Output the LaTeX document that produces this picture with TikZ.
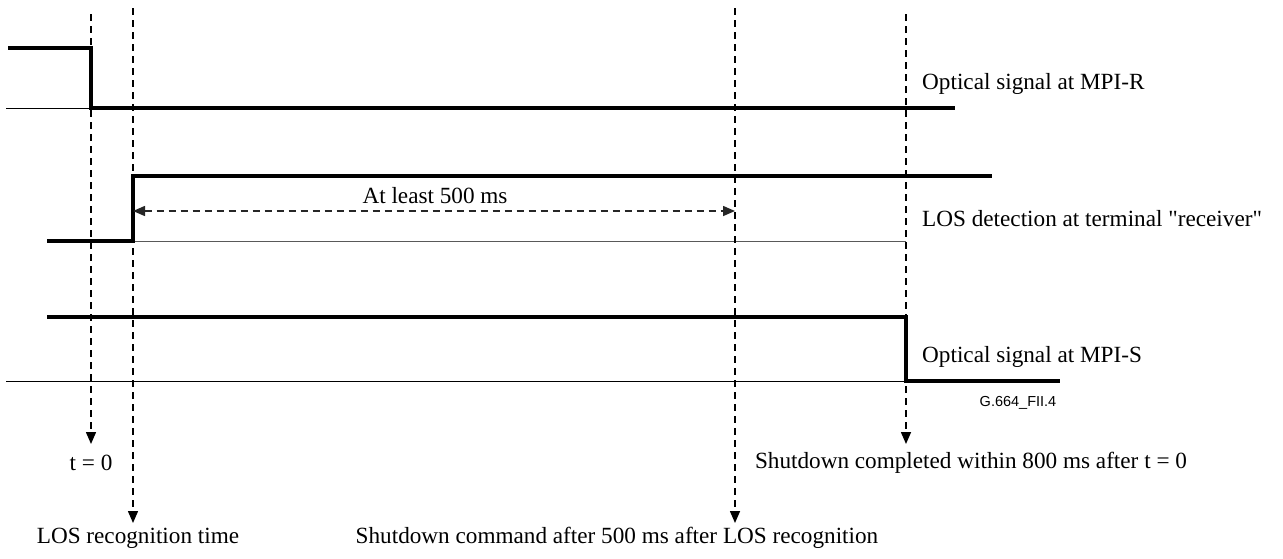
\documentclass[tikz,border=0pt]{standalone}
\usepackage{fontspec}
\newfontfamily\labelserif{Liberation Serif}
\newfontfamily\labelsans{Liberation Sans}
\usetikzlibrary{arrows.meta}
\begin{document}
\begin{tikzpicture}[x=1pt,y=-1pt,
  signal/.style={line width=4.5pt, line join=miter},
  base/.style={line width=1pt},
  marker/.style={line width=1.5pt, dash pattern=on 7pt off 5pt},
  mark arrow/.style={marker, -{Triangle[width=10pt,length=12pt]}},
  span arrow/.style={line width=1.5pt, dash pattern=on 7pt off 5pt, gray!30!black,
     {Triangle[width=10pt,length=12pt]}-{Triangle[width=10pt,length=12pt]}},
  lbl/.style={font=\labelserif\fontsize{23.2}{27}\selectfont, inner sep=0pt}]
\useasboundingbox (0,0) rectangle (1283,558);

% time markers
\coordinate (t0top) at (91,14);   \coordinate (t0bot) at (91,444);
\coordinate (lrtop) at (133,8);   \coordinate (lrbot) at (133,523);
\coordinate (sctop) at (735,8);   \coordinate (scbot) at (735,523);
\coordinate (sdtop) at (906,14);  \coordinate (sdbot) at (906,444);

% optical signal at MPI-R
\draw[base] (6,108) -- (91,108);
\draw[signal] (8,48) -- (91,48) -- (91,108) -- (955,108);

% LOS detection
\draw[base, gray!70!black] (133,241) -- (906,241);
\draw[signal] (47,241) -- (133,241) -- (133,176) -- (992,176);

% optical signal at MPI-S
\draw[base] (6,381) -- (906,381);
\draw[signal] (47,317) -- (906,317) -- (906,381) -- (1060,381);

% vertical markers
\draw[mark arrow] (t0top) -- (t0bot);
\draw[mark arrow] (lrtop) -- (lrbot);
\draw[mark arrow] (sctop) -- (scbot);
\draw[mark arrow] (sdtop) -- (sdbot);

% 500 ms span
\coordinate (spanL) at (133,211);
\coordinate (spanR) at (735,211);
\draw[span arrow] (spanL) -- (spanR);
\node[lbl] (span) at (435,196) {At least 500 ms};

% signal labels
\node[lbl, anchor=west] (mpir) at (922,84) {Optical signal at MPI-R};
\node[lbl, anchor=west] (los) at (922,219) {LOS detection at terminal "receiver"};
\node[lbl, anchor=west] (mpis) at (922,357) {Optical signal at MPI-S};
\node[inner sep=0pt, font=\labelsans\fontsize{14.5}{17}\selectfont] (fig) at (1018,403) {G.664\_FII.4};

% marker labels
\node[lbl] (t0) at (91,463) {t = 0};
\node[lbl] (lr) at (138,538) {LOS recognition time};
\node[lbl] (sc) at (617,538) {Shutdown command after 500 ms after LOS recognition};
\node[lbl] (sd) at (971,463) {Shutdown completed within 800 ms after t = 0};
\end{tikzpicture}
\end{document}
